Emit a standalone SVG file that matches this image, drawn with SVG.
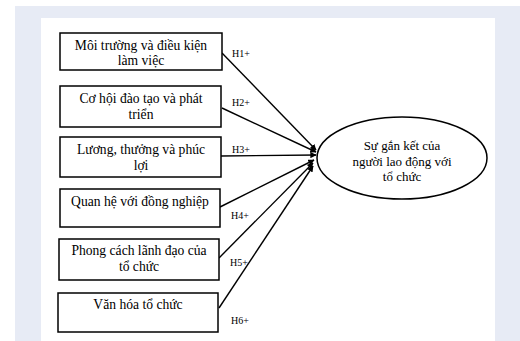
<svg xmlns="http://www.w3.org/2000/svg" width="520" height="341" viewBox="0 0 520 341">
<style>
.box{fill:#fff;stroke:#000;stroke-width:1.5}
.t{font-family:"Liberation Serif","Times New Roman",serif;font-size:13.6px;fill:#000;text-anchor:middle}
.h{font-family:"Liberation Serif","Times New Roman",serif;font-size:10px;fill:#000}
.c{stroke:#000;stroke-width:1.4;fill:none;marker-end:url(#ah)}
</style>
<defs>
<marker id="ah" viewBox="0 0 10 10" refX="9" refY="5" markerWidth="4.5" markerHeight="4.5" orient="auto" markerUnits="strokeWidth">
<path d="M0,0 L10,5 L0,10 z" fill="#000"/>
</marker>
</defs>
<rect x="0" y="0" width="520" height="341" fill="#fff"/>
<rect x="15" y="6" width="505" height="335" fill="#E7EBF5"/>
<rect x="41" y="18" width="454" height="323" fill="#fff"/>
<g id="connectors">
<line class="c" x1="222" y1="53" x2="316" y2="150"/>
<line class="c" x1="222" y1="108" x2="316" y2="152"/>
<line class="c" x1="221" y1="156" x2="316" y2="155"/>
<line class="c" x1="220" y1="207" x2="314" y2="160"/>
<line class="c" x1="219" y1="258" x2="313" y2="163"/>
<line class="c" x1="219" y1="308" x2="313" y2="166"/>
<text class="h" x="232" y="57">H1+</text>
<text class="h" x="232" y="106">H2+</text>
<text class="h" x="232" y="153">H3+</text>
<text class="h" x="231" y="219">H4+</text>
<text class="h" x="230" y="266">H5+</text>
<text class="h" x="231" y="324">H6+</text>
</g>
<g id="n1"><rect class="box" x="60" y="33" width="162" height="37"/><text class="t" x="141" y="50">Môi trường và điều kiện</text><text class="t" x="141" y="65">làm việc</text></g>
<g id="n2"><rect class="box" x="60" y="86" width="161" height="41"/><text class="t" x="141" y="103">Cơ hội đào tạo và phát</text><text class="t" x="141" y="119">triển</text></g>
<g id="n3"><rect class="box" x="60" y="137" width="161" height="40"/><text class="t" x="141" y="154">Lương, thưởng và phúc</text><text class="t" x="141" y="170">lợi</text></g>
<g id="n4"><rect class="box" x="60" y="189" width="160" height="38"/><text class="t" x="140" y="206">Quan hệ với đồng nghiệp</text></g>
<g id="n5"><rect class="box" x="59" y="239" width="160" height="41"/><text class="t" x="139" y="255">Phong cách lãnh đạo của</text><text class="t" x="139" y="271">tổ chức</text></g>
<g id="n6"><rect class="box" x="58" y="293" width="160" height="39"/><text class="t" x="138" y="309">Văn hóa tổ chức</text></g>
<g id="target"><ellipse cx="402" cy="158" rx="85" ry="41" fill="#fff" stroke="#000" stroke-width="1.5"/>
<text class="t" x="402" y="150" style="font-size:13px">Sự gắn kết của</text>
<text class="t" x="402" y="166" style="font-size:13px">người lao động với</text>
<text class="t" x="402" y="181" style="font-size:13px">tổ chức</text></g>
</svg>
